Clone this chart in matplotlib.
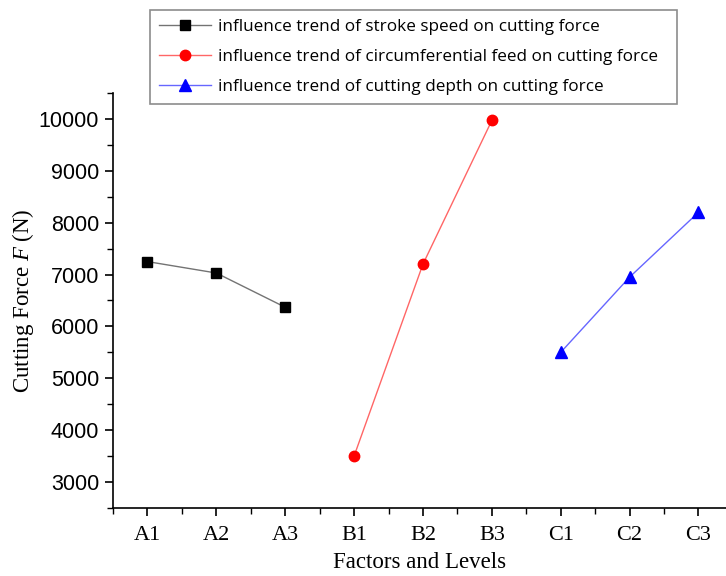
import numpy as np
import matplotlib.pyplot as plt
from matplotlib.ticker import MultipleLocator

levels = ["A1", "A2", "A3", "B1", "B2", "B3", "C1", "C2", "C3"]
stroke_speed = [7250, 7030, 6370]
circ_feed = [3500, 7200, 9970]
cut_depth = [5500, 6950, 8200]

plt.rcParams["mathtext.fontset"] = "custom"
plt.rcParams["mathtext.it"] = "Liberation Serif:italic"
plt.rcParams["mathtext.rm"] = "Liberation Serif"

fig = plt.figure(figsize=(7.26, 5.76), dpi=100)
ax = fig.add_axes([113 / 726, 1 - 508 / 576, 1 - 113 / 726, (508 - 93) / 576])

x = np.arange(len(levels))
ax.plot(x[0:3], stroke_speed, color=(0, 0, 0, 0.55), lw=1.0, marker="s", ms=6.5,
        mfc="black", mec="black", label="influence trend of stroke speed on cutting force")
ax.plot(x[3:6], circ_feed, color=(1, 0, 0, 0.6), lw=1.0, marker="o", ms=7.5,
        mfc="red", mec="red", label="influence trend of circumferential feed on cutting force")
ax.plot(x[6:9], cut_depth, color=(0, 0, 1, 0.6), lw=1.0, marker="^", ms=8,
        mfc="blue", mec="blue", label="influence trend of cutting depth on cutting force")

ax.set_xlim(-0.5, 8.4)
ax.set_ylim(2500, 10500)
ax.set_xticks(x)
ax.set_xticklabels(levels, family="Liberation Serif", fontsize=16)
ax.xaxis.set_minor_locator(MultipleLocator(0.5))
ax.set_yticks(np.arange(3000, 10001, 1000))
ax.yaxis.set_minor_locator(MultipleLocator(500))
for lab in ax.get_yticklabels():
    lab.set_family("Liberation Sans")
    lab.set_fontsize(15.5)
ax.tick_params(which="major", direction="out", length=6, width=1.2, pad=4)
ax.tick_params(axis="x", which="major", pad=7)
ax.tick_params(which="minor", direction="out", length=4, width=1.0)
for s in ["top", "right"]:
    ax.spines[s].set_visible(False)
for s in ["left", "bottom"]:
    ax.spines[s].set_linewidth(1.2)

ax.set_xlabel("Factors and Levels", family="Liberation Serif", fontsize=16.5, labelpad=5)
ax.set_ylabel("Cutting Force $F$ (N)", family="Liberation Serif", fontsize=16.5, labelpad=2)

leg_h = 90 / 576
leg = fig.legend(loc="upper left", bbox_to_anchor=(150 / 726, 1 - 10 / 576 - leg_h, (677 - 150) / 726, leg_h),
                 mode="expand", prop={"family": "Open Sans", "size": 12.3}, frameon=True, fancybox=False,
                 edgecolor="#707070", handlelength=3.0, borderpad=0.55, labelspacing=0.8,
                 handletextpad=0.45, borderaxespad=0)
leg.get_frame().set_linewidth(1.2)

fig.savefig("out.png", dpi=100)
